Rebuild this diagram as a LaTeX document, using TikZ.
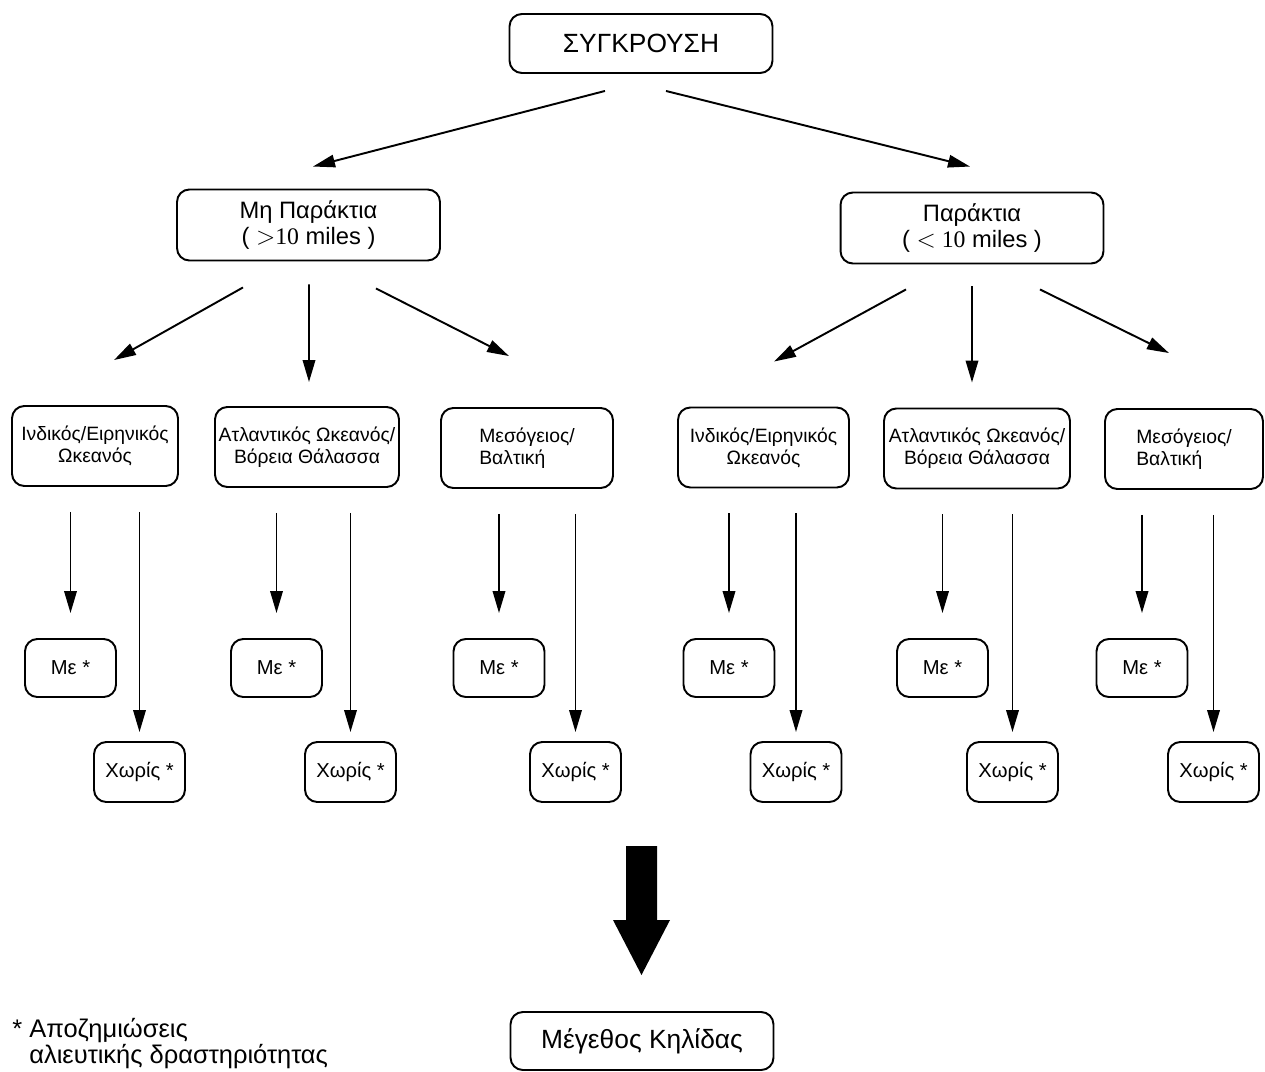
\documentclass[tikz,border=0pt]{standalone}
\usepackage{fontspec}
\setmainfont{Liberation Sans}
\newfontfamily\numfont{Liberation Serif}
\usetikzlibrary{arrows.meta,calc}

\begin{document}
\begin{tikzpicture}[
  x=0.02cm, y=-0.02cm,
  box/.style={rectangle, draw, line width=1.1pt, rounded corners=7pt,
              align=center, inner sep=0pt},
  main/.style={box, minimum width=5.26cm, minimum height=1.18cm,
               font=\fontsize{15pt}{17pt}\selectfont},
  side/.style={box, minimum width=5.26cm, minimum height=1.42cm,
               font=\fontsize{13.5pt}{15pt}\selectfont},
  sea/.style={box, minimum height=1.6cm, font=\fontsize{11pt}{12.5pt}\selectfont},
  small/.style={box, minimum width=1.82cm, minimum height=1.16cm,
                font=\fontsize{11.5pt}{13pt}\selectfont},
  arr/.style={-{Triangle[length=0.44cm,width=0.25cm]}, line width=1.1pt}
]
  \useasboundingbox (0,0) rectangle (1265,1072);

  % Κορυφή
  \node[main] (top) at (641,43.5) {ΣΥΓΚΡΟΥΣΗ};
  \node[side] (far) at (308.5,225) {Μη Παράκτια\\( {\numfont $>$10} miles )};
  \node[side] (near) at (972,228) {Παράκτια\\( {\numfont $<$ 10} miles )};
  \draw[arr] ($(top.south)+(-36,17)$) -- ($(far.north)+(4.5,-22)$);
  \draw[arr] ($(top.south)+(25,17)$) -- ($(near.north)+(-2,-25)$);

  % Θάλασσες
  \node[sea, minimum width=3.32cm] (fi) at (95,446) {Ινδικός/Ειρηνικός\\Ωκεανός};
  \node[sea, minimum width=3.68cm] (fa) at (307,447) {Ατλαντικός Ωκεανός/\\Βόρεια Θάλασσα};
  \node[sea, minimum width=3.44cm, align=left] (fm) at (527,448) {Μεσόγειος/\\Βαλτική};
  \node[sea, minimum width=3.42cm] (ni) at (763.5,447.5) {Ινδικός/Ειρηνικός\\Ωκεανός};
  \node[sea, minimum width=3.72cm] (na) at (977,448.5) {Ατλαντικός Ωκεανός/\\Βόρεια Θάλασσα};
  \node[sea, minimum width=3.16cm, align=left] (nm) at (1184,449) {Μεσόγειος/\\Βαλτική};

  \draw[arr] ($(far.south)+(-65.5,26)$) -- ($(fi.north)+(19,-45)$);
  \draw[arr] ($(far.south)+(0.5,23)$) -- ($(fa.north)+(2,-24)$);
  \draw[arr] ($(far.south)+(67.5,27)$) -- ($(fm.north)+(-18,-51)$);
  \draw[arr] ($(near.south)+(-66,25)$) -- ($(ni.north)+(10.5,-45)$);
  \draw[arr] ($(near.south)+(0,22)$) -- ($(na.north)+(-5,-25)$);
  \draw[arr] ($(near.south)+(68,25)$) -- ($(nm.north)+(-15,-55)$);

  % Με / Χωρίς αποζημιώσεις
  \foreach \r/\a/\b in {fi/70.5/139.5, fa/276.5/350.5, fm/499/575.5,
                        ni/729/796, na/942.5/1012.5, nm/1142/1213.5} {
    \node[small] (\r-me) at (\a,668) {Με *};
    \node[small, minimum height=1.2cm] (\r-xw) at (\b,772) {Χωρίς *};
    \draw[arr] ($(\r-me.north |- \r.south)+(0,25)$) -- ($(\r-me.north)+(0,-25)$);
    \draw[arr] ($(\r-xw.north |- \r.south)+(0,25)$) -- ($(\r-xw.north)+(0,-9)$);
  }

  % Αποτέλεσμα
  \fill (626,846) -- (657,846) -- (657,920) -- (670,920) -- (641.5,975)
        -- (613,920) -- (626,920) -- cycle;
  \node[main, minimum height=1.16cm] (size) at (642,1041) {Μέγεθος Κηλίδας};

  \node[anchor=north west, align=left, inner sep=0pt,
        font=\fontsize{14.5pt}{13.5pt}\selectfont] (note) at (12,1018)
        {*~Αποζημιώσεις\\\phantom{*}~αλιευτικής δραστηριότητας};
\end{tikzpicture}
\end{document}
